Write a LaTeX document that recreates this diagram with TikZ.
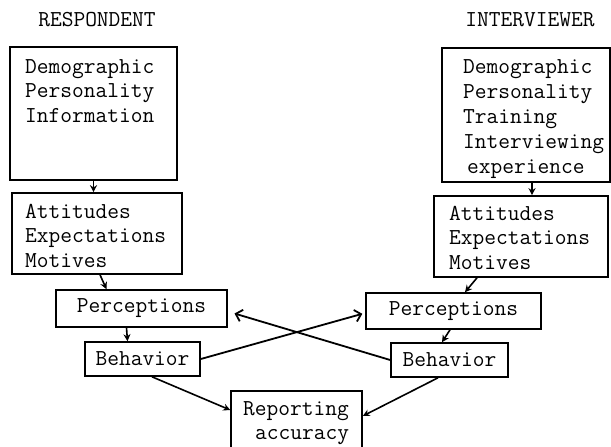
\documentclass[tikz,border=0pt]{standalone}
\usepackage{fontspec}
\usetikzlibrary{arrows.meta,calc}
\begin{document}
\begin{tikzpicture}[x=1pt,y=-1pt,
  every node/.style={font=\fontsize{22.8}{24.5}\selectfont\ttfamily},
  box/.style={draw, line width=1.6pt, inner sep=0pt},
  txt/.style={align=left, inner sep=0pt},
  arr/.style={line width=1.6pt, -{Stealth[length=7pt,width=7pt]}},
  xarr/.style={line width=1.8pt, -{Straight Barb[length=6pt,width=12pt,line width=1.8pt]}}]
\useasboundingbox (0,0) rectangle (611,447);
% headings
\node (rhead) at (97,20) {RESPONDENT};
\node (ihead) at (530,20) {INTERVIEWER};
% respondent column
\node[box, minimum width=167pt, minimum height=133pt] (rdemo) at (93.5,113.5) {};
\node[txt, anchor=base west] (rdemot) at (25,122) {Demographic\\Personality\\Information};
\node[box, minimum width=170pt, minimum height=81pt] (ratt) at (97,233.5) {};
\node[txt, anchor=base west] (rattt) at (25,267) {Attitudes\\Expectations\\Motives};
\node[box, minimum width=171pt, minimum height=37pt] (rperc) at (141.5,308.5) {Perceptions};
\node[box, minimum width=115pt, minimum height=34pt] (rbeh) at (142.5,359) {Behavior};
% interviewer column
\node[box, minimum width=168pt, minimum height=134pt] (idemo) at (526,115) {};
\node[txt, anchor=base west, font=\fontsize{22.8}{25}\selectfont\ttfamily] (idemot) at (463,173) {Demographic\\Personality\\Training\\Interviewing\\\hspace*{4pt}experience};
\node[box, minimum width=174pt, minimum height=81pt] (iatt) at (521,236.5) {};
\node[txt, anchor=base west] (iattt) at (449,269) {Attitudes\\Expectations\\Motives};
\node[box, minimum width=175pt, minimum height=36pt] (iperc) at (453.5,311) {Perceptions};
\node[box, minimum width=117pt, minimum height=34pt] (ibeh) at (449.5,360) {Behavior};
% outcome
\node[box, minimum width=131pt, minimum height=61pt] (acc) at (296.5,421.5) {};
\node[txt, anchor=base west, font=\fontsize{22.8}{24}\selectfont\ttfamily] (acct) at (243,439) {Reporting\\\hspace*{12pt}accuracy};
% vertical arrows
\draw[arr] (rdemo.south) -- (rdemo.south |- ratt.north);
\draw[arr] ([xshift=6pt]idemo.south) -- ([xshift=6pt]idemo.south |- iatt.north);
\draw[arr] ([xshift=3pt]ratt.south) -- ([xshift=-35pt]rperc.north);
\draw[arr] ([xshift=-15pt]rperc.south) -- ([xshift=-15pt]rbeh.north);
\draw[arr] ([xshift=-44pt]iatt.south) -- ([xshift=11.5pt]iperc.north);
\draw[arr] ([xshift=-3.5pt]iperc.south) -- ([xshift=-7.5pt]ibeh.north);
% crossing arrows
\draw[xarr, shorten >=3pt] (rbeh.east) -- ([yshift=-2pt]iperc.west);
\draw[xarr, shorten >=7pt] (ibeh.west) -- ([yshift=-3pt]rperc.east);
% to reporting accuracy
\draw[arr] ([xshift=9.5pt]rbeh.south) -- ([yshift=11.5pt]acc.west);
\draw[arr] ([xshift=-11.5pt]ibeh.south) -- ([yshift=5.5pt]acc.east);
\end{tikzpicture}
\end{document}
